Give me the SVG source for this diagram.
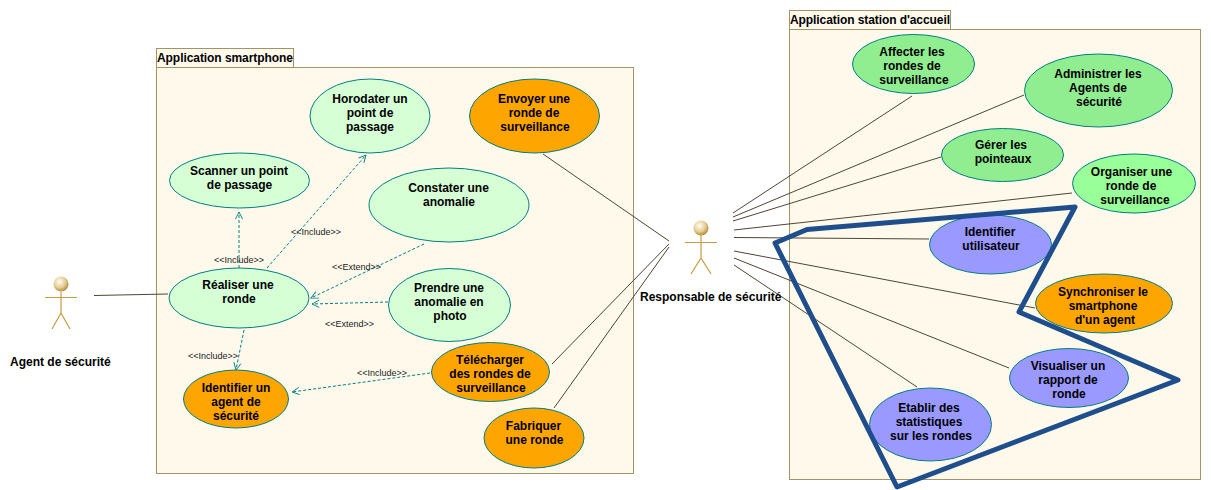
<svg xmlns="http://www.w3.org/2000/svg" width="1211" height="490" viewBox="0 0 1211 490">
<style>
text{font-family:"Liberation Sans",Arial,sans-serif;fill:#000}
.t{font-size:12px;font-weight:bold;text-anchor:middle}
.p{font-size:12px;font-weight:bold}
.s{font-size:9px;fill:#222}
.pk{fill:#fff9ec;stroke:#a09468;stroke-width:1}
.u{stroke:#008080;stroke-width:1}
.lg{fill:#d6ffd6}.g{fill:#90ee90}.g2{fill:#99ff99}.o{fill:#ffa500}.b{fill:#9999ff}
.c{stroke:#4f4534;stroke-width:1;fill:none}
.d{stroke:#008080;stroke-width:1;stroke-dasharray:3 2;fill:none;marker-end:url(#a)}
.ac{stroke:#c89b3c;stroke-width:1.2;fill:none}
</style>
<defs>
<marker id="a" viewBox="0 0 10 10" refX="9" refY="5" markerWidth="9" markerHeight="9" markerUnits="userSpaceOnUse" orient="auto"><path d="M1 1L9 5L1 9" fill="none" stroke="#008080" stroke-width="1"/></marker>
<radialGradient id="h" cx="0.4" cy="0.35" r="0.7"><stop offset="0" stop-color="#fffdf5"/><stop offset="0.55" stop-color="#e6cf96"/><stop offset="1" stop-color="#a9822f"/></radialGradient>
</defs>
<g id="pkg-smartphone">
<rect class="pk" x="156.500" y="48.500" width="137" height="19"/>
<rect class="pk" x="156.500" y="67.500" width="477" height="406"/>
<text class="p" x="157" y="62" textLength="136">Application smartphone</text>
</g>
<g id="pkg-station">
<rect class="pk" x="789.500" y="10.500" width="161" height="19"/>
<rect class="pk" x="789.500" y="29.500" width="411" height="450"/>
<text class="p" x="790" y="24" textLength="160">Application station d'accueil</text>
</g>
<g id="connectors">
<path class="c" d="M94 295.500L168 294M543 154L669 241M552 364L669 244M554 408L669 247"/>
<path class="c" d="M733 213L912 96M733 217L1024 95M733 221L941 157M734 230L1072 193M734 237.500L929 239M734 251L1035 308M734 258L1009 368M734 265L917 387"/>
<path class="d" d="M239 268L239 212"/>
<path class="d" d="M267 268L366 155"/>
<path class="d" d="M424 244L311 298"/>
<path class="d" d="M388 302L312 304"/>
<path class="d" d="M244 330L236 370"/>
<path class="d" d="M430 373L292 392"/>
<text class="s" x="214" y="263">&lt;&lt;Include&gt;&gt;</text>
<text class="s" x="291" y="235">&lt;&lt;Include&gt;&gt;</text>
<text class="s" x="332" y="270">&lt;&lt;Extend&gt;&gt;</text>
<text class="s" x="325" y="327">&lt;&lt;Extend&gt;&gt;</text>
<text class="s" x="188" y="359">&lt;&lt;Include&gt;&gt;</text>
<text class="s" x="357" y="376">&lt;&lt;Include&gt;&gt;</text>
</g>
<g id="actor-agent">
<path class="ac" d="M45 297.500H77M61 292V313M61 313L52 329M61 313L70 329"/>
<circle cx="61" cy="284" r="7.500" fill="url(#h)"/>
<text class="p" x="10" y="366">Agent de sécurité</text>
</g>
<g id="actor-responsable">
<path class="ac" d="M685 242.500H717M701 235V258M701 258L691 274M701 258L711 274"/>
<circle cx="701" cy="228" r="7.500" fill="url(#h)"/>
<text class="p" x="640" y="301">Responsable de sécurité</text>
</g>
<g id="uc-horodater"><ellipse class="u lg" cx="370" cy="116" rx="60" ry="37"/><text class="t" x="370" y="103">Horodater un</text><text class="t" x="370" y="117">point de</text><text class="t" x="370" y="131">passage</text></g>
<g id="uc-scanner"><ellipse class="u lg" cx="239.500" cy="180.500" rx="70" ry="27.500"/><text class="t" x="239" y="175">Scanner un point</text><text class="t" x="239.500" y="189">de passage</text></g>
<g id="uc-envoyer"><ellipse class="u o" cx="534.500" cy="116" rx="65" ry="37"/><text class="t" x="534" y="103">Envoyer une</text><text class="t" x="534" y="117">ronde de</text><text class="t" x="535" y="131">surveillance</text></g>
<g id="uc-constater"><ellipse class="u lg" cx="449" cy="205" rx="80" ry="37"/><text class="t" x="448.500" y="192">Constater une</text><text class="t" x="449" y="206">anomalie</text></g>
<g id="uc-realiser"><ellipse class="u lg" cx="239" cy="298" rx="70" ry="30"/><text class="t" x="238" y="289">Réaliser une</text><text class="t" x="239" y="303">ronde</text></g>
<g id="uc-prendre"><ellipse class="u lg" cx="449.500" cy="305" rx="61" ry="36.500"/><text class="t" x="449" y="292">Prendre une</text><text class="t" x="449" y="306">anomalie en</text><text class="t" x="450" y="320">photo</text></g>
<g id="uc-telecharger"><ellipse class="u o" cx="490.500" cy="372" rx="59" ry="29.500"/><text class="t" x="490" y="364">Télécharger</text><text class="t" x="490" y="378">des rondes de</text><text class="t" x="491" y="392">surveillance</text></g>
<g id="uc-identifier-agent"><ellipse class="u o" cx="236" cy="399" rx="52.500" ry="29"/><text class="t" x="236" y="392">Identifier un</text><text class="t" x="236" y="406">agent de</text><text class="t" x="236" y="420">sécurité</text></g>
<g id="uc-fabriquer"><ellipse class="u o" cx="534" cy="438" rx="50" ry="30"/><text class="t" x="533.500" y="430">Fabriquer</text><text class="t" x="534.500" y="444">une ronde</text></g>
<g id="uc-affecter"><ellipse class="u g" cx="913.500" cy="64" rx="61" ry="29.500"/><text class="t" x="912" y="56">Affecter les</text><text class="t" x="912" y="70">rondes de</text><text class="t" x="914" y="84">surveillance</text></g>
<g id="uc-administrer"><ellipse class="u g" cx="1098.500" cy="90.500" rx="74" ry="36.500"/><text class="t" x="1098" y="78">Administrer les</text><text class="t" x="1098" y="92">Agents de</text><text class="t" x="1099" y="106">sécurité</text></g>
<g id="uc-gerer"><ellipse class="u g" cx="1002.500" cy="155" rx="61" ry="26.500"/><text class="t" x="1001" y="149">Gérer les</text><text class="t" x="1003" y="163">pointeaux</text></g>
<g id="uc-organiser"><ellipse class="u g2" cx="1134" cy="183.500" rx="61.500" ry="29.500"/><text class="t" x="1131.500" y="176">Organiser une</text><text class="t" x="1131" y="190">ronde de</text><text class="t" x="1135" y="204">surveillance</text></g>
<g id="uc-identifier-utilisateur"><ellipse class="u b" cx="990.500" cy="244.500" rx="61" ry="29.500"/><text class="t" x="990" y="236">Identifier</text><text class="t" x="991" y="250">utilisateur</text></g>
<g id="uc-synchroniser"><ellipse class="u o" cx="1104" cy="303.500" rx="68.500" ry="29.500"/><text class="t" x="1103" y="296">Synchroniser le</text><text class="t" x="1103" y="310">smartphone</text><text class="t" x="1105" y="324">d'un agent</text></g>
<g id="uc-visualiser"><ellipse class="u b" cx="1069" cy="378" rx="59.500" ry="29.500"/><text class="t" x="1068" y="370">Visualiser un</text><text class="t" x="1068" y="384">rapport de</text><text class="t" x="1069" y="398">ronde</text></g>
<g id="uc-etablir"><ellipse class="u b" cx="930.500" cy="424.500" rx="61" ry="36.500"/><text class="t" x="929" y="412">Etablir des</text><text class="t" x="929" y="426">statistiques</text><text class="t" x="931" y="440">sur les rondes</text></g>
<path id="highlight" d="M1075 207L807 229.500L775 243L897 487L1178 380L1019 312Z" fill="none" stroke="#1f4e8c" stroke-width="5" stroke-linejoin="round"/>
</svg>
